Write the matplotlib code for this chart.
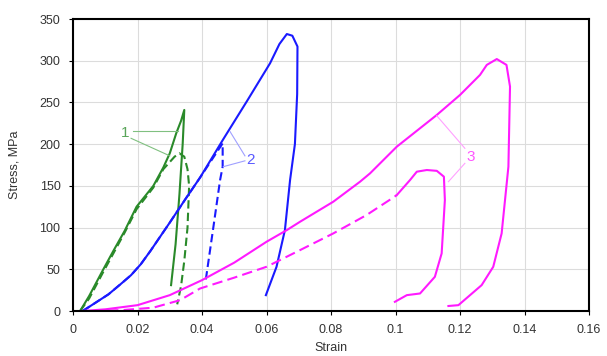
import matplotlib.pyplot as plt

plt.rcParams['font.family'] = ['Liberation Sans', 'DejaVu Sans']

# curve 1 (green)
g_solid_x = [0.0022, 0.005, 0.0094, 0.0125, 0.0160, 0.0197, 0.0249, 0.028, 0.030, 0.032, 0.0335, 0.0345, 0.0340, 0.0330, 0.0318, 0.0304]
g_solid_y = [0, 18, 50, 72, 96, 125, 150, 172, 189, 213, 228, 241, 200, 140, 80, 31]
g_dash_x = [0.0022, 0.005, 0.0094, 0.0125, 0.0160, 0.0197, 0.0249, 0.028, 0.0315, 0.033, 0.0345, 0.0355, 0.036, 0.0355, 0.0345, 0.0335, 0.0323]
g_dash_y = [0, 15, 47, 69, 94, 122, 148, 170, 185, 189, 185, 170, 150, 100, 60, 30, 8]

# curve 2 (blue)
b_solid_x = [0.003, 0.0058, 0.011, 0.015, 0.018, 0.021, 0.024, 0.027, 0.030, 0.035, 0.0394, 0.0466, 0.054, 0.0611, 0.0640, 0.0663,
             0.068, 0.0696, 0.0695, 0.0688, 0.0673, 0.0657, 0.0631, 0.0598]
b_solid_y = [0, 7, 20, 33, 43, 56, 72, 89, 106, 135, 160, 206, 252, 297, 320, 332, 330, 317, 260, 200, 157, 97, 53, 19]
b_dash_x = [0.003, 0.0058, 0.011, 0.015, 0.018, 0.021, 0.024, 0.027, 0.030, 0.035, 0.0394, 0.0464, 0.0464, 0.0456, 0.0435, 0.041]
b_dash_y = [0, 7, 20, 33, 43, 56, 72, 89, 106, 135, 160, 201, 173, 157, 100, 33]

# curve 3 (magenta)
m_solid_x = [0.003, 0.010, 0.020, 0.030, 0.040, 0.050, 0.060, 0.0663, 0.0704, 0.0807, 0.089, 0.0921, 0.1004, 0.1128, 0.120, 0.1262,
             0.1283, 0.1314, 0.1344, 0.1355, 0.135, 0.1329, 0.1303, 0.1267, 0.1195, 0.1164]
m_solid_y = [0, 2, 7, 19, 37, 58, 83, 97, 107, 131, 155, 165, 197, 235, 259, 283, 295, 302, 295, 269, 173, 93, 53, 31, 7, 6]
m_dash_x = [0.006, 0.015, 0.0249, 0.0332, 0.0394, 0.050, 0.060, 0.0704, 0.0807, 0.091, 0.0993, 0.1004]
m_dash_y = [0, 1, 4, 13, 27, 40, 53, 73, 93, 115, 136, 139]
m_tail_x = [0.1004, 0.1045, 0.1066, 0.1097, 0.1128, 0.115, 0.1153, 0.1143, 0.1122, 0.1076, 0.1035, 0.0998]
m_tail_y = [139, 157, 167, 169, 168, 161, 133, 69, 41, 21, 19, 11]

green = '#2a8a2a'
blue = '#1a1aff'
magenta = '#ff1aff'

fig = plt.figure(figsize=(6.07, 3.56), dpi=100)
ax = fig.add_axes([0.1203, 0.1264, 0.8501, 0.8202])

ax.plot(g_solid_x, g_solid_y, color=green, lw=1.5)
ax.plot(g_dash_x, g_dash_y, color=green, lw=1.5, linestyle=(0, (4, 2)))
ax.plot(b_solid_x, b_solid_y, color=blue, lw=1.5)
ax.plot(b_dash_x, b_dash_y, color=blue, lw=1.5, linestyle=(0, (4, 2)))
ax.plot(m_solid_x, m_solid_y, color=magenta, lw=1.5)
ax.plot(m_dash_x, m_dash_y, color=magenta, lw=1.5, linestyle=(0, (5, 2.5)))
ax.plot(m_tail_x, m_tail_y, color=magenta, lw=1.5)

# labels with leader lines
ax.text(0.0161, 213, '1', color='#5aa55a', fontsize=11, ha='center', va='center')
ax.plot([0.0185, 0.0326], [216, 216], color='#80c080', lw=0.8)
ax.plot([0.0180, 0.0300], [207, 186], color='#80c080', lw=0.8)
ax.text(0.0551, 181, '2', color='#5a5aff', fontsize=11, ha='center', va='center')
ax.plot([0.0533, 0.0487], [186, 215], color='#a0a0ff', lw=0.8)
ax.plot([0.0533, 0.0466], [180, 173], color='#a0a0ff', lw=0.8)
ax.text(0.1233, 185, '3', color='#ff55ff', fontsize=11, ha='center', va='center')
ax.plot([0.1215, 0.1128], [195, 234], color='#ffa0ff', lw=0.8)
ax.plot([0.1215, 0.1164], [177, 155], color='#ffa0ff', lw=0.8)

ax.set_xlim(0, 0.16)
ax.set_ylim(0, 350)
ax.set_xticks([0, 0.02, 0.04, 0.06, 0.08, 0.1, 0.12, 0.14, 0.16])
ax.set_xticklabels(['0', '0.02', '0.04', '0.06', '0.08', '0.1', '0.12', '0.14', '0.16'])
ax.set_yticks(range(0, 351, 50))
ax.grid(True, color='#dcdcdc', lw=0.8)
ax.set_axisbelow(True)
ax.tick_params(labelsize=9, length=3, width=0.8, direction='out', pad=6, labelcolor='#333333')
for s in ax.spines.values():
    s.set_linewidth(1.5)
ax.set_xlabel('Strain', fontsize=9, labelpad=5, color='#333333')
ax.set_ylabel('Stress, MPa', fontsize=9, labelpad=14, color='#333333')

fig.savefig('out.png', dpi=100)
